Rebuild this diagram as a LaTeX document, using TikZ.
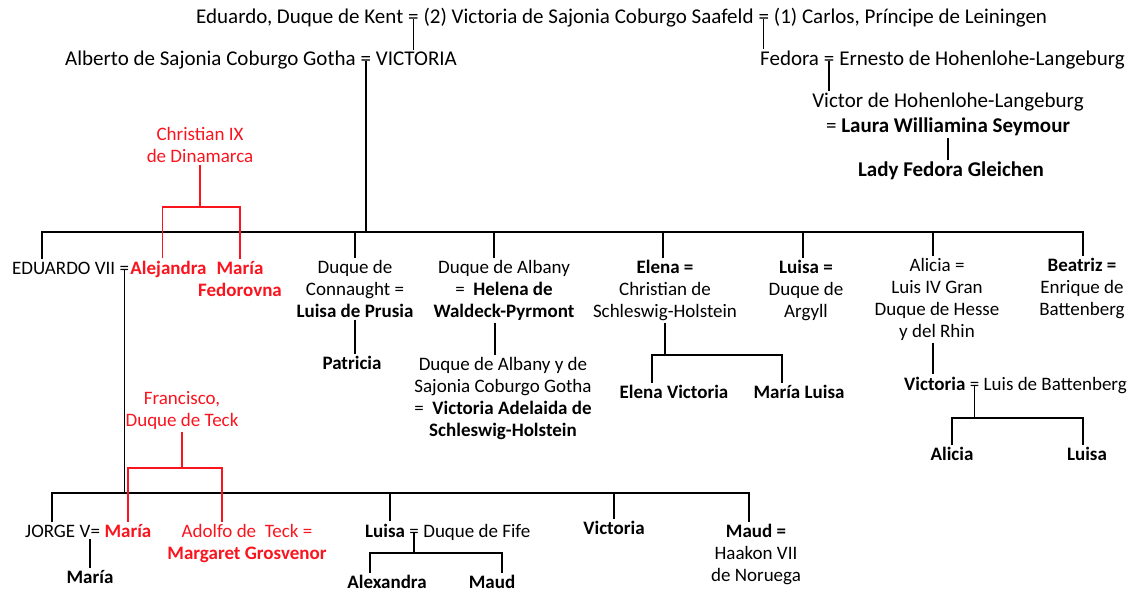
\documentclass[tikz,border=0pt]{standalone}
\usepackage{fontspec}
\setmainfont{Carlito}
\usetikzlibrary{positioning}
\definecolor{teckred}{RGB}{250,20,30}

\begin{document}
\begin{tikzpicture}[x=1pt, y=-1pt,
  every node/.style={font=\fontsize{19}{22}\selectfont},
  big/.style={font=\fontsize{21}{25}\selectfont},
  pers/.style={align=center, anchor=north, inner sep=2pt},
  word/.style={inner xsep=0pt, inner ysep=2pt},
  dane/.style={text=teckred},
  tree/.style={line width=1.4pt},
  rtree/.style={line width=1.4pt, draw=teckred}]
\useasboundingbox (0,0) rectangle (1136,594);

% Kent and Leiningen
\node[word, big, anchor=base west] (kent) at (196,24) {Eduardo, Duque de Kent};
\node[word, big, base right=4.5pt of kent] (eqKent) {=};
\node[word, big, base right=4.5pt of eqKent] (duchess) {(2) Victoria de Sajonia Coburgo Saafeld};
\node[word, big, base right=4.5pt of duchess] (eqLein) {=};
\node[word, big, base right=4.5pt of eqLein] (carlos) {(1) Carlos, Príncipe de Leiningen};

% Victoria and Albert
\node[word, big, anchor=base west] (alberto) at (65,66) {Alberto de Sajonia Coburgo Gotha};
\node[word, big, base right=4.5pt of alberto] (eqAlb) {=};
\node[word, big, base right=4.5pt of eqAlb] (victoria) {VICTORIA};
\draw[tree] (eqKent.center) -- (eqKent.center |- victoria.north);

% Fedora and her line
\node[word, big, anchor=base west] (fedora) at (760,66) {Fedora};
\node[word, big, base right=4.5pt of fedora] (eqFed) {=};
\node[word, big, base right=4.5pt of eqFed] (ernesto) {Ernesto de Hohenlohe-Langeburg};
\draw[tree] (eqLein.center) -- (eqLein.center |- fedora.north);
\node[pers, big] (victor) at (948,91) {Victor de Hohenlohe-Langeburg\\= \textbf{Laura Williamina Seymour}};
\draw[tree] (eqFed.center) -- (eqFed.center |- victor.north);
\node[pers, big] (lady) at (951,160) {\textbf{Lady Fedora Gleichen}};
\draw[tree] (victor.south) -- (victor.south |- lady.north);

% Children of Victoria
\coordinate (b1w) at (42,232);
\coordinate (b1e) at (1083,232);
\draw[tree] (eqAlb.center) -- (eqAlb.center |- b1w);
\node[word, anchor=base west] (edVII) at (12,274) {EDUARDO VII};
\node[word, base right=4pt of edVII] (eqEd) {=};
\node[word, dane, base right=1pt of eqEd] (alejandra) {\textbf{Alejandra}};
\node[pers, dane] (mariaF) at (240,259) {\textbf{María}\\\textbf{Fedorovna}};
\node[pers] (connaught) at (355,258) {Duque de\\Connaught =\\\textbf{Luisa de Prusia}};
\node[pers] (albany) at (504,258) {Duque de Albany\\=\ \ \textbf{Helena de}\\\textbf{Waldeck-Pyrmont}};
\node[pers] (elena) at (665,258) {\textbf{Elena =}\\Christian de\\Schleswig-Holstein};
\node[pers] (argyll) at (806,258) {\textbf{Luisa =}\\Duque de\\Argyll};
\node[pers] (alicia) at (937,256) {Alicia =\\Luis IV Gran\\Duque de Hesse\\y del Rhin};
\node[pers] (beatriz) at (1082,256) {\textbf{Beatriz =}\\Enrique de\\Battenberg};
\draw[tree] (b1w |- edVII.north) -- (b1w) -- (b1e) -- (b1e |- beatriz.north);
\foreach \n/\dx in {connaught/0, albany/-10, elena/-2, argyll/-3, alicia/-4} {
  \coordinate (top) at ([xshift=\dx pt]\n.north);
  \draw[tree] (top) -- (top |- b1w);
}

% Christian IX of Denmark
\node[pers, dane] (christian) at (200,125) {Christian IX\\de Dinamarca};
\coordinate (cBar) at (0,207);
\draw[rtree] (christian.south) -- (christian.south |- cBar);
\draw[rtree] ([xshift=-6pt]alejandra.north) |- (mariaF.north |- cBar) -- (mariaF.north);

% Grandchildren
\node[pers] (patricia) at (352,354) {\textbf{Patricia}};
\draw[tree] (connaught.south) -- (connaught.south |- patricia.north);
\node[pers] (albanyJr) at (503,355) {Duque de Albany y de\\Sajonia Coburgo Gotha\\=\ \ \textbf{Victoria Adelaida de}\\\textbf{Schleswig-Holstein}};
\coordinate (abDn) at ([xshift=-9pt]albany.south);
\draw[tree] (abDn) -- (abDn |- albanyJr.north);

\coordinate (elBar) at (0,355);
\node[pers] (elenaV) at (674,383) {\textbf{Elena Victoria}};
\node[pers] (mariaL) at (799,383) {\textbf{María Luisa}};
\draw[tree] (elena.south) -- (elena.south |- elBar);
\coordinate (evTop) at ([xshift=-22pt]elenaV.north);
\coordinate (mlTop) at ([xshift=-17pt]mariaL.north);
\draw[tree] (evTop) |- (mlTop |- elBar) -- (mlTop);

\node[word, anchor=base west] (victoriaB) at (904,390) {\textbf{Victoria}};
\node[word, base right=4pt of victoriaB] (eqBatt) {=};
\node[word, base right=4pt of eqBatt] (battenberg) {Luis de Battenberg};
\coordinate (alDn) at ([xshift=-4pt]alicia.south);
\draw[tree] (alDn) -- (alDn |- victoriaB.north);
\coordinate (vbBar) at (0,418);
\draw[tree] (eqBatt.center) -- (eqBatt.center |- vbBar);
\node[pers] (aliciaB) at (952,445) {\textbf{Alicia}};
\node[pers] (luisaB) at (1087,445) {\textbf{Luisa}};
\coordinate (lbTop) at ([xshift=-4pt]luisaB.north);
\draw[tree] (aliciaB.north) |- (lbTop |- vbBar) -- (lbTop);

% Children of Eduardo VII
\coordinate (b2w) at (52,493);
\coordinate (b2e) at (749,493);
\draw[tree] (eqEd.center) -- (eqEd.center |- b2w);
\node[word, anchor=base west] (jorge) at (25,537) {JORGE V};
\node[word, base right=0pt of jorge] (eqJorge) {=};
\node[word, dane, base right=4pt of eqJorge] (mariaT) {\textbf{María}};
\node[pers, dane] (adolfo) at (247,522) {Adolfo de\ \ Teck =\\\textbf{Margaret Grosvenor}};
\node[word, anchor=base west] (luisaF) at (365,537) {\textbf{Luisa}};
\node[word, base right=4pt of luisaF] (eqFife) {=};
\node[word, base right=4pt of eqFife] (fife) {Duque de Fife};
\node[pers] (victoriaM) at (614,519) {\textbf{Victoria}};
\node[pers] (maud) at (756,522) {\textbf{Maud =}\\Haakon VII\\de Noruega};
\draw[tree] (b2w |- jorge.north) -- (b2w) -- (b2e) -- (b2e |- maud.north);
\foreach \n/\dx in {luisaF/5, victoriaM/0} {
  \coordinate (top) at ([xshift=\dx pt]\n.north);
  \draw[tree] (top) -- (top |- b2w);
}

% Francisco, Duque de Teck
\node[pers, dane] (francisco) at (182,389) {Francisco,\\Duque de Teck};
\coordinate (fBar) at (0,468);
\draw[rtree] (francisco.south) -- (francisco.south |- fBar);
\coordinate (adTop) at ([xshift=-25pt]adolfo.north);
\draw[rtree] (mariaT.north) |- (adTop |- fBar) -- (adTop);

% Great-grandchildren
\node[pers] (mariaJr) at (90,568) {\textbf{María}};
\draw[tree] (mariaJr.north) -- (mariaJr.north |- jorge.south);
\coordinate (fifeBar) at (0,553);
\draw[tree] (eqFife.center) -- (eqFife.center |- fifeBar);
\node[pers] (alexandra) at (387,573) {\textbf{Alexandra}};
\node[pers] (maudF) at (492,573) {\textbf{Maud}};
\coordinate (alTop) at ([xshift=-17pt]alexandra.north);
\coordinate (mdTop) at ([xshift=10pt]maudF.north);
\draw[tree] (alTop) |- (mdTop |- fifeBar) -- (mdTop);

\end{tikzpicture}
\end{document}
